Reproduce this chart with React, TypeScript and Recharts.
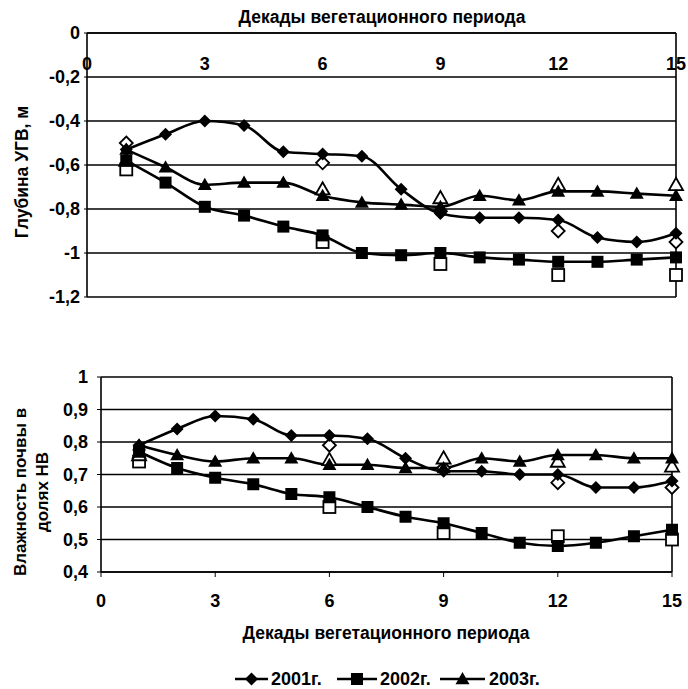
import React from 'react';
import { ComposedChart, Line, Scatter, XAxis, YAxis, CartesianGrid, ReferenceLine } from 'recharts';

const DECADES = [1, 2, 3, 4, 5, 6, 7, 8, 9, 10, 11, 12, 13, 14, 15];
const X_TICKS = [0, 3, 6, 9, 12, 15];
const MEAS_X = [1, 6, 9, 12, 15];

// Глубина УГВ, м
const UGV_TICKS = [0, -0.2, -0.4, -0.6, -0.8, -1, -1.2];
const UGV_2001 = [-0.53, -0.46, -0.4, -0.42, -0.54, -0.55, -0.56, -0.71, -0.82, -0.84, -0.84, -0.85, -0.93, -0.95, -0.91];
const UGV_2002 = [-0.58, -0.68, -0.79, -0.83, -0.88, -0.92, -1.0, -1.01, -1.0, -1.02, -1.03, -1.04, -1.04, -1.03, -1.02];
const UGV_2003 = [-0.53, -0.61, -0.69, -0.68, -0.68, -0.74, -0.77, -0.78, -0.79, -0.74, -0.76, -0.72, -0.72, -0.73, -0.74];
const UGV_2001_MEAS = [-0.5, -0.59, -0.81, -0.9, -0.95];
const UGV_2002_MEAS = [-0.62, -0.95, -1.05, -1.1, -1.1];
const UGV_2003_MEAS = [-0.58, -0.71, -0.75, -0.69, -0.69];

// Влажность почвы в долях НВ
const W_TICKS = [0.4, 0.5, 0.6, 0.7, 0.8, 0.9, 1];
const W_2001 = [0.79, 0.84, 0.88, 0.87, 0.82, 0.82, 0.81, 0.75, 0.71, 0.71, 0.7, 0.7, 0.66, 0.66, 0.68];
const W_2002 = [0.77, 0.72, 0.69, 0.67, 0.64, 0.63, 0.6, 0.57, 0.55, 0.52, 0.49, 0.48, 0.49, 0.51, 0.53];
const W_2003 = [0.79, 0.76, 0.74, 0.75, 0.75, 0.73, 0.73, 0.72, 0.72, 0.75, 0.74, 0.76, 0.76, 0.75, 0.75];
const W_2001_MEAS = [0.75, 0.79, 0.72, 0.675, 0.66];
const W_2002_MEAS = [0.74, 0.6, 0.52, 0.51, 0.5];
const W_2003_MEAS = [0.76, 0.745, 0.75, 0.74, 0.725];

const YEARS = ['2001г.', '2002г.', '2003г.'];
const KINDS = ['diamond', 'square', 'triangle'];

const FONT = '"Liberation Sans", Arial, sans-serif';
const tickStyle = { fill: '#000', fontSize: 18, fontWeight: 700, fontFamily: FONT };
const fmt = (v: number) => String(v).replace('.', ',');

const Marker = ({ cx, cy, kind, hollow }: any) => {
  if (cx == null || cy == null) return null;
  const fill = hollow ? '#fff' : '#000';
  const sw = hollow ? 1.8 : 0;
  if (kind === 'diamond') {
    const r = 6.5;
    return <polygon points={`${cx},${cy - r} ${cx + r},${cy} ${cx},${cy + r} ${cx - r},${cy}`} fill={fill} stroke="#000" strokeWidth={sw} />;
  }
  if (kind === 'square') {
    const r = 6;
    return <rect x={cx - r} y={cy - r} width={2 * r} height={2 * r} fill={fill} stroke="#000" strokeWidth={sw} />;
  }
  const r = 7;
  return <polygon points={`${cx},${cy - r} ${cx + r},${cy + r * 0.75} ${cx - r},${cy + r * 0.75}`} fill={fill} stroke="#000" strokeWidth={sw} />;
};

const lineRows = (a: number[], b: number[], c: number[]) =>
  DECADES.map((x, i) => ({ x, y2001: a[i], y2002: b[i], y2003: c[i] }));
const measRows = (arr: number[]) => MEAS_X.map((x, i) => ({ x, y: arr[i] }));

const ugvData = lineRows(UGV_2001, UGV_2002, UGV_2003);
const ugvMeas = [UGV_2001_MEAS, UGV_2002_MEAS, UGV_2003_MEAS].map(measRows);
const wData = lineRows(W_2001, W_2002, W_2003);
const wMeas = [W_2001_MEAS, W_2002_MEAS, W_2003_MEAS].map(measRows);

const renderSeries = (meas: { x: number; y: number }[][]) => [
  ...meas.map((rows, i) => (
    <Scatter
      key={`m${i}`}
      data={rows}
      dataKey="y"
      isAnimationActive={false}
      shape={(p: any) => <Marker cx={p.cx} cy={p.cy} kind={KINDS[i]} hollow />}
    />
  )),
  ...['y2001', 'y2002', 'y2003'].map((key, i) => (
    <Line
      key={key}
      dataKey={key}
      type="monotone"
      stroke="#000"
      strokeWidth={2.6}
      isAnimationActive={false}
      dot={(p: any) => <Marker key={`${key}-${p.index}`} cx={p.cx} cy={p.cy} kind={KINDS[i]} />}
      activeDot={false}
    />
  )),
];

// top axis labels sit just under the axis line, inside the plot
const TopTick = (p: any) => (
  <text x={p.x} y={p.y + 37} textAnchor="middle" {...tickStyle}>
    {p.payload.value}
  </text>
);

const legendItems = [
  { x1: 235, x2: 268, tx: 271 },
  { x1: 337, x2: 377, tx: 380 },
  { x1: 440, x2: 485, tx: 489 },
];

export default function App() {
  return (
    <div style={{ position: 'absolute', left: 0, top: 0, width: 688, height: 689, background: '#fff' }}>
      <div style={{ position: 'absolute', left: 0, top: 0 }}>
        <ComposedChart width={688} height={310} data={ugvData} margin={{ top: 3, right: 12, bottom: 13, left: 0 }}>
          <CartesianGrid vertical={false} stroke="#000" strokeWidth={1.5} strokeOpacity={1} />
          <XAxis
            dataKey="x"
            type="number"
            orientation="top"
            domain={[0, 15]}
            ticks={X_TICKS}
            height={30}
            tickSize={0}
            tickMargin={0}
            tickLine={false}
            axisLine={{ stroke: '#000', strokeWidth: 1.6 }}
            tick={TopTick}
          />
          <YAxis
            type="number"
            domain={[-1.2, 0]}
            ticks={UGV_TICKS}
            width={87}
            tickFormatter={fmt}
            tickSize={3}
            tickMargin={4}
            tickLine={{ stroke: '#000' }}
            axisLine={{ stroke: '#000', strokeWidth: 1.6 }}
            tick={tickStyle}
          />
          <ReferenceLine x={15} stroke="#000" strokeWidth={1.6} />
          {renderSeries(ugvMeas)}
        </ComposedChart>
      </div>
      <div style={{ position: 'absolute', left: 0, top: 340 }}>
        <ComposedChart width={688} height={320} data={wData} margin={{ top: 37, right: 16, bottom: 58, left: 0 }}>
          <CartesianGrid vertical={false} stroke="#000" strokeWidth={1.5} strokeOpacity={1} />
          <XAxis
            dataKey="x"
            type="number"
            domain={[0, 15]}
            ticks={X_TICKS}
            height={30}
            tickSize={5}
            tickMargin={17}
            tickLine={{ stroke: '#000' }}
            axisLine={{ stroke: '#000', strokeWidth: 1.6 }}
            tick={tickStyle}
          />
          <YAxis
            type="number"
            domain={[0.4, 1]}
            ticks={W_TICKS}
            width={101}
            tickFormatter={fmt}
            tickSize={4}
            tickMargin={9}
            tickLine={{ stroke: '#000' }}
            axisLine={{ stroke: '#000', strokeWidth: 1.6 }}
            tick={tickStyle}
          />
          <ReferenceLine x={15} stroke="#000" strokeWidth={1.6} />
          {renderSeries(wMeas)}
        </ComposedChart>
      </div>
      <svg width={688} height={689} style={{ position: 'absolute', left: 0, top: 0, pointerEvents: 'none' }}>
        <g fontFamily={FONT} fontWeight={700} fontSize={17.5} fill="#000">
          <text x={382} y={23} textAnchor="middle">Декады вегетационного периода</text>
          <text x={386} y={639} textAnchor="middle">Декады вегетационного периода</text>
          <text transform="translate(28,172) rotate(-90)" textAnchor="middle">Глубина УГВ, м</text>
          <text transform="translate(26,492) rotate(-90)" textAnchor="middle" fontSize={17}>Влажность почвы в</text>
          <text transform="translate(48,492) rotate(-90)" textAnchor="middle" fontSize={17}>долях НВ</text>
          {legendItems.map((it, i) => (
            <g key={YEARS[i]}>
              <line x1={it.x1} x2={it.x2} y1={679} y2={679} stroke="#000" strokeWidth={2.4} />
              <Marker cx={(it.x1 + it.x2) / 2} cy={679} kind={KINDS[i]} />
              <text x={it.tx} y={685} fontSize={18}>{YEARS[i]}</text>
            </g>
          ))}
        </g>
      </svg>
    </div>
  );
}
